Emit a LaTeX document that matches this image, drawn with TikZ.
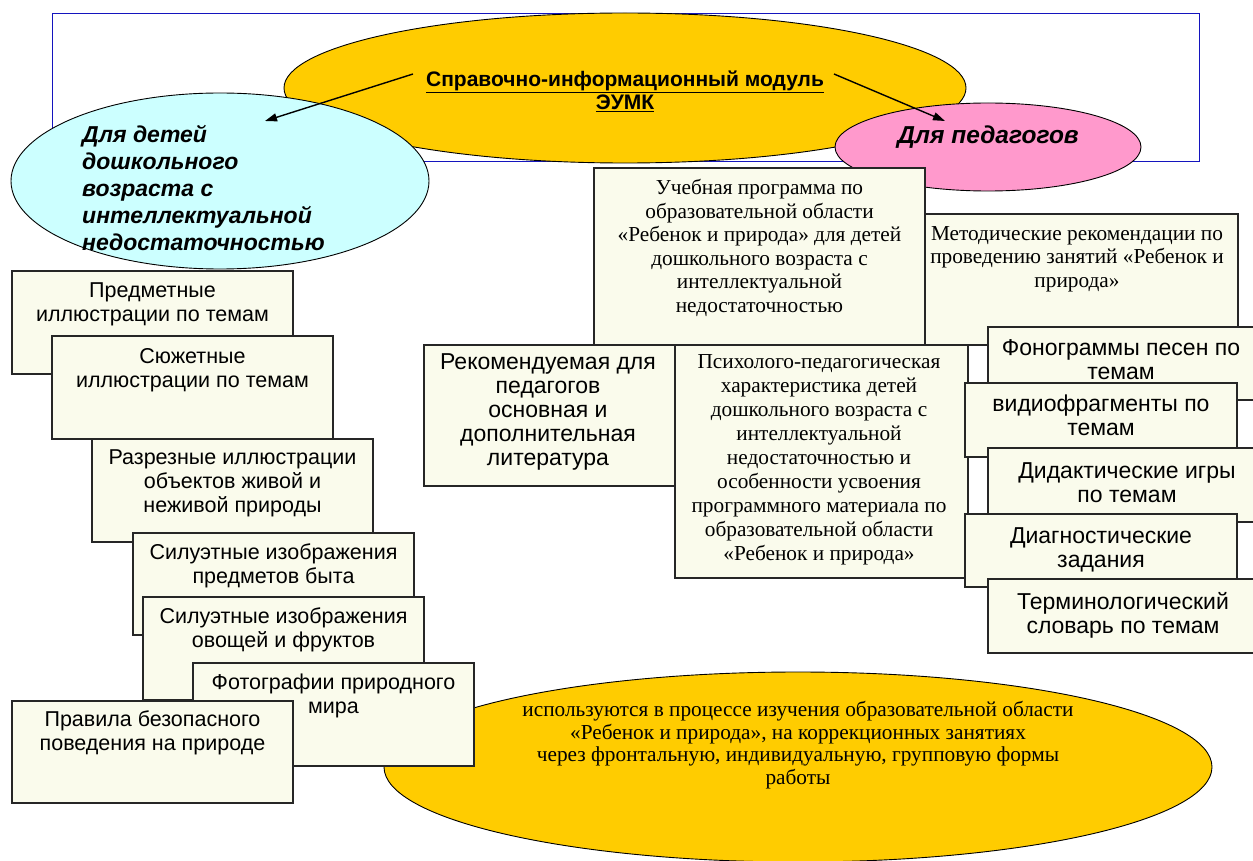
\documentclass[tikz,border=0pt]{standalone}
\usepackage{fontspec}
\setmainfont{Liberation Serif}
\setsansfont{Liberation Sans}
\usetikzlibrary{shapes.geometric,arrows.meta,calc}
\definecolor{boxfill}{RGB}{250,251,236}
\definecolor{topyellow}{RGB}{255,204,0}
\definecolor{cyanfill}{RGB}{204,255,255}
\definecolor{pinkfill}{RGB}{255,153,204}
\definecolor{frameblue}{RGB}{20,20,190}
\tikzset{
  bx/.style={draw=black!85, line width=1.1pt, fill=boxfill, inner sep=0pt, outer sep=0pt, anchor=north west},
  ell/.style={ellipse, draw=black, line width=0.9pt, inner sep=0pt, outer sep=0pt},
  stxt/.style={font=\fontsize{21.5}{24}\selectfont\sffamily, align=center, inner sep=0pt, anchor=north},
  btxt/.style={font=\fontsize{23}{24}\selectfont\sffamily, align=center, inner sep=0pt, anchor=north},
  rtxt/.style={font=\fontsize{21.3}{23.6}\selectfont\rmfamily, align=center, inner sep=0pt, anchor=north},
  titletxt/.style={font=\fontsize{21}{23}\selectfont\sffamily\bfseries, align=center, inner sep=0pt, anchor=north},
  kidtxt/.style={font=\fontsize{23}{27}\selectfont\sffamily\bfseries\itshape, align=left, inner sep=0pt, anchor=north west},
  pedtxt/.style={font=\fontsize{24.5}{27}\selectfont\sffamily\bfseries\itshape, inner sep=0pt},
  arr/.style={-{Triangle[length=12pt,width=8pt]}, line width=1.4pt, black},
}
\begin{document}
\begin{tikzpicture}[x=1pt,y=-1pt]
\useasboundingbox (0,0) rectangle (1253,861);
\fill[white] (0,0) rectangle (1253,861);

% top frame and ellipses
\node[draw=frameblue, line width=1pt, minimum width=1147pt, minimum height=148pt, inner sep=0pt, anchor=north west] (frame) at (52,13) {};
\node[ell, fill=topyellow, minimum width=682pt, minimum height=150pt] (main) at (625,88) {};
\node[ell, fill=cyanfill, minimum width=418pt, minimum height=176pt] (kids) at (220,181) {};
\node[ell, fill=pinkfill, minimum width=306pt, minimum height=88pt] (ped) at (988,147) {};
\node[titletxt] (title) at (625,71) {\underline{Справочно-информационный модуль}\\\underline{ЭУМК}};
\node[kidtxt] (kidst) at (82,125) {Для детей\\дошкольного\\возраста с\\интеллектуальной\\недостаточностью};
\node[pedtxt] (pedt) at (988,137) {Для педагогов};
\coordinate (a1s) at (413,74);
\coordinate (a1e) at (265,121);
\coordinate (a2s) at (834,74);
\coordinate (a2e) at (945,121);
\draw[arr] (a1s) -- (a1e);
\draw[arr] (a2s) -- (a2e);

% bottom ellipse
\node[ell, fill=topyellow, minimum width=828pt, minimum height=190pt] (use) at (798,767) {};
\node[rtxt, font=\fontsize{21.3}{22.7}\selectfont\rmfamily] (uset) at (798,701) {используются в процессе изучения образовательной области\\«Ребенок и природа», на коррекционных занятиях\\через фронтальную, индивидуальную, групповую формы\\работы};

% left column
\node[bx, minimum width=281pt, minimum height=103pt] (b1) at (12,271) {};
\node[stxt] (b1t) at (152.5,283) {Предметные\\иллюстрации по темам};
\node[bx, minimum width=281pt, minimum height=103pt] (b2) at (52,336) {};
\node[stxt] (b2t) at (192.5,348) {Сюжетные\\иллюстрации по темам};
\node[bx, minimum width=281pt, minimum height=103pt] (b3) at (92,439) {};
\node[stxt] (b3t) at (232.5,450) {Разрезные иллюстрации\\объектов живой и\\неживой природы};
\node[bx, minimum width=281pt, minimum height=102pt] (b4) at (133,533) {};
\node[stxt] (b4t) at (273.5,544) {Силуэтные изображения\\предметов быта};
\node[bx, minimum width=281pt, minimum height=103pt] (b5) at (143,597) {};
\node[stxt] (b5t) at (283.5,608) {Силуэтные изображения\\овощей и фруктов};
\node[bx, minimum width=281pt, minimum height=103pt] (b6) at (193,663) {};
\node[stxt] (b6t) at (333.5,674) {Фотографии природного\\мира};
\node[bx, minimum width=281pt, minimum height=102pt] (b7) at (12,701) {};
\node[stxt] (b7t) at (152.5,711) {Правила безопасного\\поведения на природе};

% right part
\node[bx, minimum width=331pt, minimum height=177pt] (r1) at (594,168) {};
\node[rtxt] (r1t) at (759.5,179) {Учебная программа по\\образовательной области\\«Ребенок и природа» для детей\\дошкольного возраста с\\интеллектуальной\\недостаточностью};
\node[bx, minimum width=313pt, minimum height=131pt] (r2) at (925,214) {};
\node[rtxt] (r2t) at (1077,226) {Методические рекомендации по\\проведению занятий «Ребенок и\\природа»};
\node[bx, minimum width=251pt, minimum height=141pt] (r3) at (424,345) {};
\node[btxt] (r3t) at (548,353) {Рекомендуемая для\\педагогов\\основная и\\дополнительная\\литература};
\node[bx, minimum width=293pt, minimum height=233pt] (r4) at (675,345) {};
\node[rtxt, font=\fontsize{21.3}{24}\selectfont\rmfamily] (r4t) at (819,354) {Психолого-педагогическая\\характеристика детей\\дошкольного возраста с\\интеллектуальной\\недостаточностью и\\особенности усвоения\\программного материала по\\образовательной области\\«Ребенок и природа»};

% right column
\node[bx, minimum width=266pt, minimum height=73pt] (c1) at (988,327) {};
\node[btxt] (c1t) at (1121,339) {Фонограммы песен по\\темам};
\node[bx, minimum width=272pt, minimum height=74pt] (c2) at (965,383) {};
\node[btxt] (c2t) at (1101,395) {видиофрагменты по\\темам};
\node[bx, minimum width=278pt, minimum height=74pt] (c3) at (988,448) {};
\node[btxt] (c3t) at (1127,462) {Дидактические игры\\по темам};
\node[bx, minimum width=272pt, minimum height=73pt] (c4) at (965,514) {};
\node[btxt] (c4t) at (1101,527) {Диагностические\\задания};
\node[bx, minimum width=270pt, minimum height=74pt] (c5) at (988,579) {};
\node[btxt] (c5t) at (1123,592) {Терминологический\\словарь по темам};
\end{tikzpicture}
\end{document}
